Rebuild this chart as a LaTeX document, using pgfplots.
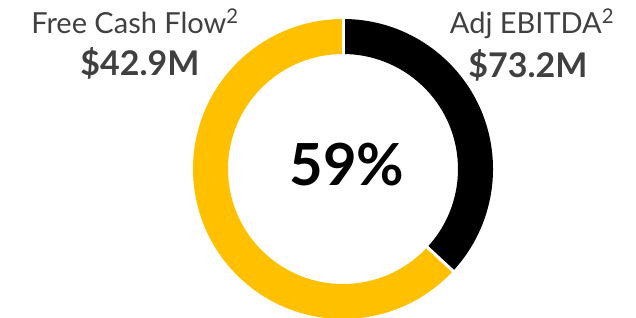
\documentclass[border=0pt]{standalone}
\usepackage{pgfplots}
\usepackage{pgfplotstable}
\pgfplotsset{compat=1.18}
\usepackage{fontspec}
\setmainfont{Lato}
\definecolor{gold}{HTML}{FFC000}
\definecolor{txtgray}{HTML}{404040}
\pgfplotstableread{
label share
AdjOther 36.9
FCF 63.1
}\donutdata
\begin{document}
\begin{tikzpicture}
\pgfplotstablegetelem{0}{share}\of\donutdata
\pgfmathsetmacro{\shareA}{\pgfplotsretval}
\pgfmathsetmacro{\angA}{90-3.6*\shareA}
\begin{axis}[
  x=1pt, y=1pt, disabledatascaling,
  scale only axis,
  xmin=0, xmax=636, ymin=0, ymax=317,
  hide axis, clip=true,
]
% black sector (from top, clockwise)
\fill[black] (axis cs:343,148) ++(90:150) arc[start angle=90, end angle=\angA, radius=150]
  -- ++(\angA+180:35) arc[start angle=\angA, end angle=90, radius=115] -- cycle;
% yellow sector
\fill[gold] (axis cs:343,148) ++(\angA:150) arc[start angle=\angA, end angle=-270, radius=150]
  -- ++(-90:35) arc[start angle=-270, end angle=\angA, radius=115] -- cycle;
% white separators
\draw[white, line width=3pt] (axis cs:343,148) ++(90:110) -- ++(90:45);
\draw[white, line width=3pt] (axis cs:343,148) ++(\angA:110) -- ++(\angA:45);
\end{axis}
\node[anchor=base, text=txtgray, font=\fontsize{29}{32}\selectfont, inner sep=0pt] at (135pt,284pt) {Free Cash Flow\textsuperscript{2}};
\node[anchor=base, text=txtgray, font=\fontsize{34}{38}\selectfont\bfseries, inner sep=0pt] at (140pt,242pt) {\$42.9M};
\node[anchor=base, text=txtgray, font=\fontsize{29}{32}\selectfont, inner sep=0pt] at (532pt,284pt) {Adj EBITDA\textsuperscript{2}};
\node[anchor=base, text=txtgray, font=\fontsize{34}{38}\selectfont\bfseries, inner sep=0pt] at (528pt,240pt) {\$73.2M};
\node[anchor=base, text=black, font=\fontsize{58}{62}\selectfont\bfseries, inner sep=0pt] at (347pt,132pt) {59\%};
\pgfresetboundingbox
\path (0pt,0pt) rectangle (636pt,317pt);
\end{tikzpicture}
\end{document}
